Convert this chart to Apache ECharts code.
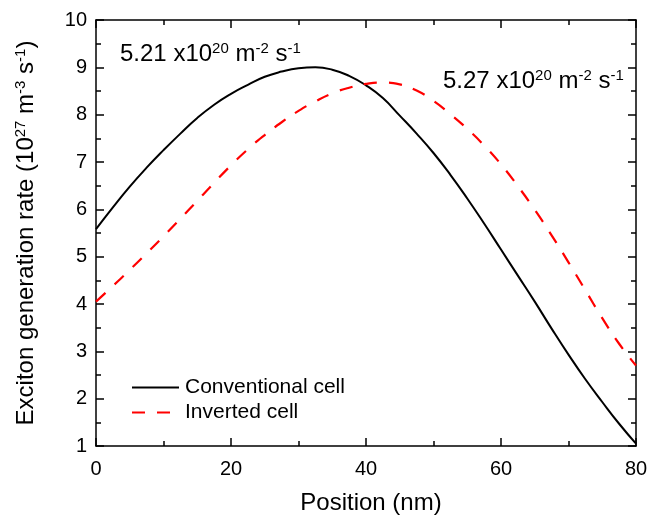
<!DOCTYPE html>
<html>
<head>
<meta charset="utf-8">
<script src="https://cdn.jsdelivr.net/npm/echarts@6/dist/echarts.min.js"></script>
<style>
html,body{margin:0;padding:0;background:#fff;}
#chart{width:651px;height:520px;}
</style>
</head>
<body>
<div id="chart"></div>
<script>
var positions = [0,2.5,5,7.5,10,12.5,15,17.5,20,22.5,25,27.5,30,32.5,35,37.5,40,42.5,45,47.5,50,52.5,55,57.5,60,62.5,65,67.5,70,72.5,75,77.5,80];
var conventional = [5.58,6.04,6.48,6.88,7.25,7.60,7.93,8.21,8.44,8.63,8.80,8.91,8.98,9.00,8.95,8.82,8.62,8.35,7.98,7.60,7.19,6.73,6.23,5.70,5.15,4.60,4.05,3.48,2.93,2.41,1.93,1.47,1.05];
var inverted = [4.05,4.38,4.72,5.07,5.43,5.80,6.18,6.56,6.93,7.27,7.57,7.84,8.08,8.28,8.45,8.57,8.65,8.68,8.64,8.51,8.29,8.01,7.70,7.35,6.95,6.49,5.99,5.45,4.88,4.29,3.70,3.16,2.70];
var seriesNames = ['Conventional cell','Inverted cell'];
var xTicks = [0,20,40,60,80];
var yTicks = [1,2,3,4,5,6,7,8,9,10];

var FONT = '"Liberation Sans", Arial, sans-serif';
function richSet(size, supSize, lh){
  return {
    n: {fontSize: size, fontFamily: FONT, color: '#000', lineHeight: lh},
    s: {fontSize: supSize, fontFamily: FONT, color: '#000', lineHeight: lh, verticalAlign: 'top'}
  };
}

function pairs(xs, ys){ return xs.map(function(x,i){return [x, ys[i]];}); }

var axisBase = {
  type: 'value',
  axisLine: {show: true, onZero: false, lineStyle: {color: '#000', width: 1.5}},
  axisTick: {show: true, inside: true, length: 8, lineStyle: {color: '#000', width: 1.5}},
  minorTick: {show: true, splitNumber: 2, length: 5, lineStyle: {color: '#000', width: 1.5}},
  splitLine: {show: false}
};
function ax(extra){ return Object.assign({}, JSON.parse(JSON.stringify(axisBase)), extra); }

var chart = echarts.init(document.getElementById('chart'), null, {renderer: 'canvas'});
chart.setOption({
  animation: false,
  backgroundColor: '#fff',
  grid: {left: 96, right: 15, top: 20, bottom: 71, containLabel: false},
  xAxis: [
    ax({min: xTicks[0], max: xTicks[xTicks.length-1], interval: 20, position: 'bottom',
        name: 'Position (nm)', nameLocation: 'middle', nameGap: 45,
        nameTextStyle: {fontSize: 24, fontFamily: FONT, color: '#000', padding: [0,0,0,10]},
        axisLabel: {show: true, fontSize: 20, fontFamily: FONT, color: '#000', margin: 13}}),
    ax({min: xTicks[0], max: xTicks[xTicks.length-1], interval: 20, position: 'top',
        axisLabel: {show: false}})
  ],
  yAxis: [
    ax({min: yTicks[0], max: yTicks[yTicks.length-1], interval: 1, position: 'left',
        name: '{n|Exciton generation rate (10}{s|27}{n| m}{s|-3}{n| s}{s|-1}{n|)}',
        nameLocation: 'middle', nameGap: 57, nameRotate: 90,
        nameTextStyle: {fontSize: 24, fontFamily: FONT, color: '#000', rich: richSet(24, 15, 26)},
        axisLabel: {show: true, fontSize: 20, fontFamily: FONT, color: '#000', margin: 9}}),
    ax({min: yTicks[0], max: yTicks[yTicks.length-1], interval: 1, position: 'right',
        axisLabel: {show: false}})
  ],
  legend: {
    orient: 'vertical', left: 126, top: 372, padding: 5,
    itemWidth: 47, itemHeight: 14, itemGap: 4,
    itemStyle: {opacity: 0},
    textStyle: {fontSize: 21, fontFamily: FONT, color: '#000', padding: [0,0,0,1]},
    data: seriesNames
  },
  series: [
    {name: seriesNames[0], type: 'line', data: pairs(positions, conventional), smooth: 0.5, symbol: 'none',
     lineStyle: {color: '#000', width: 2}, itemStyle: {color: '#000'}},
    {name: seriesNames[1], type: 'line', data: pairs(positions, inverted), smooth: 0.5, symbol: 'none',
     lineStyle: {color: '#ff0000', width: 2.2, type: [13, 12]}, itemStyle: {color: '#ff0000'}}
  ],
  graphic: [
    {type: 'text', left: 120, top: 41, style: {text: '{n|5.21 x10}{s|20}{n| m}{s|-2}{n| s}{s|-1}', rich: richSet(24, 15, 26)}},
    {type: 'text', left: 443, top: 68, style: {text: '{n|5.27 x10}{s|20}{n| m}{s|-2}{n| s}{s|-1}', rich: richSet(24, 15, 26)}}
  ]
});
</script>
</body>
</html>
